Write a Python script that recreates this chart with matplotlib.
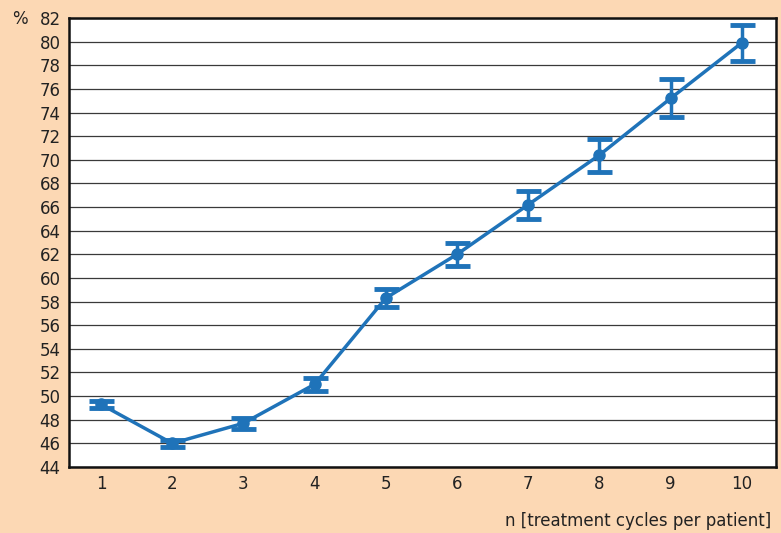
import numpy as np
import matplotlib.pyplot as plt

# data
cycles = [1, 2, 3, 4, 5, 6, 7, 8, 9, 10]
percent = [49.3, 46.0, 47.7, 51.0, 58.3, 62.0, 66.2, 70.4, 75.2, 79.9]
err = [0.3, 0.3, 0.45, 0.55, 0.75, 0.95, 1.2, 1.4, 1.6, 1.5]
yticks = list(range(44, 83, 2))

bg = '#fcd8b4'
blue = '#1f73b9'

plt.rcParams['font.family'] = ['DejaVu Sans']

fig = plt.figure(figsize=(7.81, 5.33), dpi=100, facecolor=bg)
ax = fig.add_axes([69 / 781, 66 / 533, 707 / 781, 449 / 533])
ax.set_facecolor('white')

ax.errorbar(cycles, percent, yerr=err, color=blue, lw=2.5, marker='o', ms=8,
            capsize=9, capthick=3.5, elinewidth=2.5, zorder=3)

ax.set_xlim(0.55, 10.48)
ax.set_ylim(44, 82)
ax.set_yticks(yticks)
ax.set_xticks(cycles)
ax.yaxis.grid(True, color='#3a3a3a', lw=0.9)
ax.set_axisbelow(True)
ax.tick_params(length=0, labelsize=12, colors='#222222', pad=6)
for s in ax.spines.values():
    s.set_linewidth(1.8)
    s.set_color('#111111')

fig.text(12 / 781, 1 - 19 / 533, '%', fontsize=12, color='#222222', va='center')
fig.text(771 / 781, 1 - 521 / 533, 'n [treatment cycles per patient]',
         fontsize=12, color='#222222', ha='right', va='center')

fig.savefig('out.png', dpi=100, facecolor=bg)
